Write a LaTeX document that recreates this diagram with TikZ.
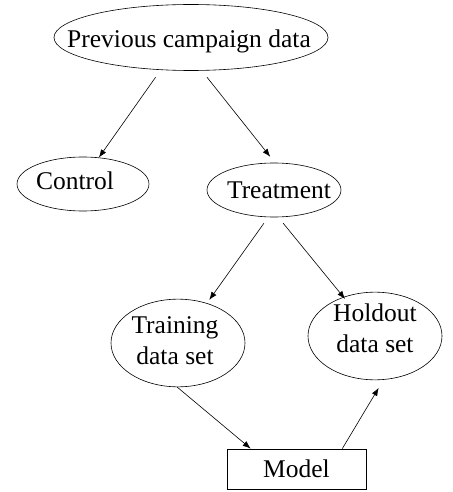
\documentclass[tikz,border=0pt]{standalone}
\usepackage{fontspec}
\setmainfont{Liberation Serif}
\usetikzlibrary{shapes.geometric,arrows.meta}

\tikzset{
	oval/.style={draw, ellipse, inner sep=0pt, line width=0.6pt},
	box/.style={draw, rectangle, inner sep=0pt, line width=0.8pt},
	link/.style={-{Latex[length=8pt,width=6pt]}, line width=0.6pt},
}
% text set in the oval, moved by (#1,#2)
\newcommand{\ovaltext}[3]{\makebox[0pt]{\hspace*{#1}\raisebox{#2}[\height][\depth]{#3}}}

\begin{document}
\begin{tikzpicture}[x=1pt, y=-1pt, font=\fontsize{25.5}{31}\selectfont]
	\useasboundingbox (0,0) rectangle (452,492);
	% nodes
	\node[oval, minimum width=274pt, minimum height=66pt] (prev) at (191,37.5) {\ovaltext{-4pt}{-4pt}{Previous campaign data}};
	\node[oval, minimum width=132pt, minimum height=54pt] (ctrl) at (83,184) {\ovaltext{-16pt}{3pt}{Control}};
	\node[oval, minimum width=134pt, minimum height=54pt] (treat) at (274,190) {\ovaltext{10pt}{0pt}{Treatment}};
	\node[oval, minimum width=134pt, minimum height=80pt] (train) at (178,343) {\ovaltext{-6pt}{0pt}{\begin{tabular}{@{}c@{}}Training\\data set\end{tabular}}};
	\node[oval, minimum width=134pt, minimum height=80pt] (hold) at (375,336) {\ovaltext{0pt}{5pt}{\begin{tabular}{@{}c@{}}Holdout\\data set\end{tabular}}};
	\node[box, minimum width=139pt, minimum height=40pt] (model) at (296.5,469) {Model};
	% arrows
	\draw[link, shorten <=9pt] (prev.227) -- (ctrl.59);
	\draw[link, shorten <=8.3pt, shorten >=7.6pt] (prev.288) -- (treat.88);
	\draw[link, shorten <=7.5pt, shorten >=4pt] (treat.258) -- (train.54);
	\draw[link, shorten <=7.7pt, shorten >=-2.5pt] (treat.279) -- (hold.129.5);
	\draw[link] (train.269) -- (model.156);
	\draw[link, shorten >=9.4pt] (model.24) -- (hold.281);
\end{tikzpicture}
\end{document}
